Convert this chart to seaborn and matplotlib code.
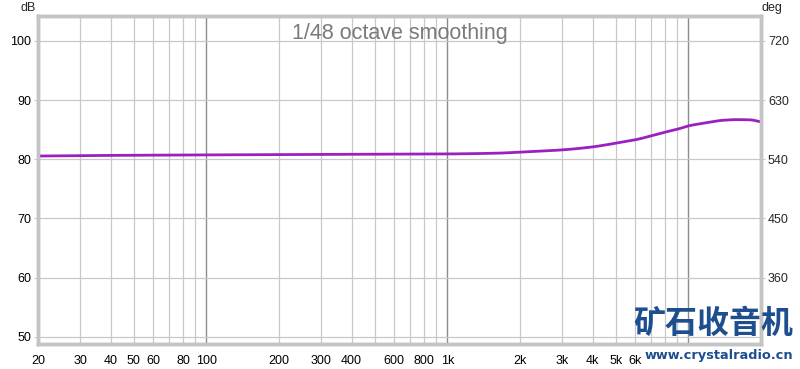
import matplotlib
matplotlib.use("Agg")
import matplotlib.pyplot as plt
import seaborn as sns
import pandas as pd
import numpy as np
from matplotlib.ticker import FixedLocator, NullLocator

freq_hz = [20, 30, 50, 100, 200, 500, 1000, 1600, 2000, 3000, 4000, 5000, 6000,
           7000, 8000, 9000, 10000, 12000, 14000, 16000, 18000, 20000]
spl_db = [80.55, 80.62, 80.68, 80.74, 80.78, 80.84, 80.9, 81.03, 81.2, 81.59, 82.09,
          82.72, 83.28, 83.95, 84.58, 85.08, 85.64, 86.2, 86.6, 86.7, 86.66, 86.32]

x_ticks = [20, 30, 40, 50, 60, 80, 100, 200, 300, 400, 600, 800, 1000,
           2000, 3000, 4000, 5000, 6000]
x_tick_labels = ["20", "30", "40", "50", "60", "80", "100", "200", "300", "400",
                 "600", "800", "1k", "2k", "3k", "4k", "5k", "6k"]
grid_freqs = [30, 40, 50, 60, 70, 80, 90, 200, 300, 400, 500, 600, 700, 800, 900,
              2000, 3000, 4000, 5000, 6000, 7000, 8000, 9000]
major_freqs = [100, 1000, 10000]
db_ticks = [50, 60, 70, 80, 90, 100]
deg_ticks = [360, 450, 540, 630, 720]

sns.set_style("white")
plt.rcParams['font.family'] = ['Liberation Sans', 'DejaVu Sans']

fig = plt.figure(figsize=(8, 3.69), dpi=100)
ax = fig.add_axes([38/800, 25/369, (761-38)/800, (344-16)/369])

df = pd.DataFrame({"freq": freq_hz, "spl": spl_db})
lf = np.log10(df["freq"].values)
fine = np.linspace(lf[0], lf[-1], 600)

def pchip(x, y, xn):
    h = np.diff(x); d = np.diff(y) / h
    m = np.zeros_like(y)
    for i in range(1, len(y)-1):
        if d[i-1]*d[i] > 0:
            w1 = 2*h[i] + h[i-1]; w2 = h[i] + 2*h[i-1]
            m[i] = (w1 + w2) / (w1/d[i-1] + w2/d[i])
    m[0] = d[0]; m[-1] = d[-1]
    idx = np.clip(np.searchsorted(x, xn) - 1, 0, len(x)-2)
    t = (xn - x[idx]) / h[idx]
    h00 = 2*t**3 - 3*t**2 + 1; h10 = t**3 - 2*t**2 + t
    h01 = -2*t**3 + 3*t**2; h11 = t**3 - t**2
    return h00*y[idx] + h10*h[idx]*m[idx] + h01*y[idx+1] + h11*h[idx]*m[idx+1]

curve = pd.DataFrame({"freq": 10**fine, "spl": pchip(lf, df["spl"].values, fine)})

ax.set_xscale("log")
ax.set_xlim(20, 20000)
ax.set_ylim(48.8, 104.2)

for f in grid_freqs:
    ax.axvline(f, color="#c8c8c8", lw=0.9, zorder=0)
for f in major_freqs:
    ax.axvline(f, color="#8c8c8c", lw=1.0, zorder=0)
for v in db_ticks:
    ax.axhline(v, color="#c8c8c8", lw=0.9, zorder=0)

sns.lineplot(data=curve, x="freq", y="spl", ax=ax, color="#9c1fc0", lw=2.0, zorder=3)

ax.xaxis.set_major_locator(FixedLocator(x_ticks))
ax.set_xticklabels(x_tick_labels)
ax.xaxis.set_minor_locator(NullLocator())
ax.set_yticks(db_ticks)
ax.set_yticklabels([str(v) for v in db_ticks])
ax.tick_params(axis="both", labelsize=9, colors="black", length=3, width=0.8)
ax.tick_params(axis="x", color="#c8c8c8", pad=5)
ax.tick_params(axis="y", color="#c8c8c8", pad=2)
ax.set_xlabel("")
ax.set_ylabel("")

ax2 = ax.twinx()
ax2.set_ylim(48.8*9 - 180, 104.2*9 - 180)
ax2.set_yticks(deg_ticks)
ax2.set_yticklabels([str(v) for v in deg_ticks])
ax2.tick_params(axis="y", labelsize=9, length=3, color="#c8c8c8", pad=2)

for a in (ax, ax2):
    for s in a.spines.values():
        s.set_color("#c4c4c4")
        s.set_linewidth(2.5)

fig.text(28/800, 1 - 8/369, "dB", fontsize=9, ha="center", va="center")
fig.text(772/800, 1 - 8/369, "deg", fontsize=9, ha="center", va="center")
fig.text(400/800, 1 - 33/369, "1/48 octave smoothing", fontsize=15.5,
         color="#7a7a7a", ha="center", va="center")

fig.text(713/800, 1 - 324/369, "矿石收音机", fontsize=23, fontweight="bold",
         color="#1d4f8e", ha="center", va="center",
         family=["Noto Sans CJK SC", "DejaVu Sans"])
fig.text(719/800, 1 - 356/369, "www.crystalradio.cn", fontsize=9.3, fontweight="bold",
         color="#1d4f8e", ha="center", va="center", family=["DejaVu Sans"],
         bbox=dict(facecolor="white", edgecolor="none", pad=0.5))

fig.savefig("out.png", dpi=100, facecolor="white")
